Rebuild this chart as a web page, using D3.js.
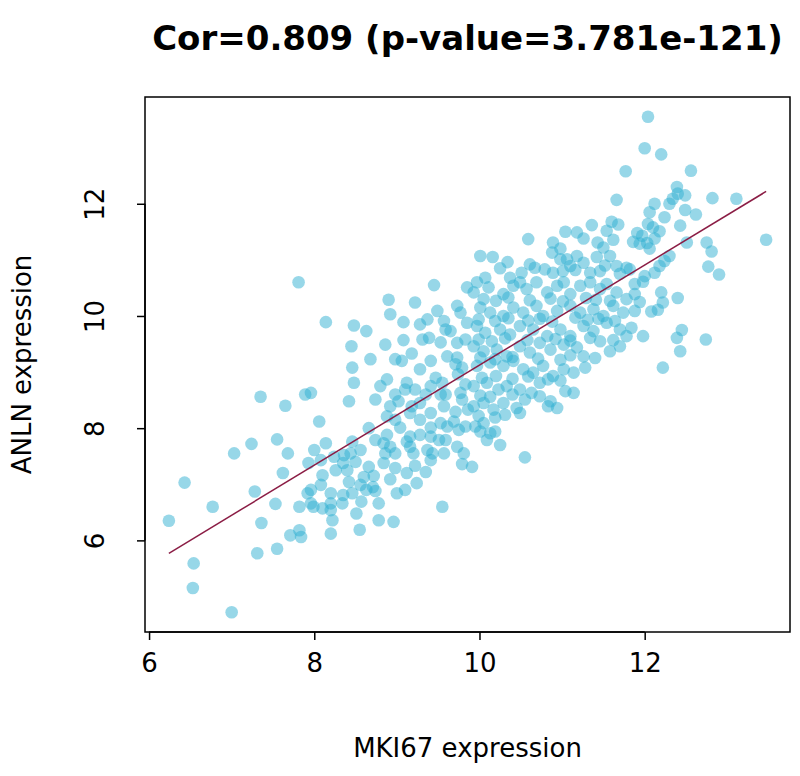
<!DOCTYPE html>
<html>
<head>
<meta charset="utf-8">
<script src="https://cdn.jsdelivr.net/npm/d3@7"></script>
<style>
body { margin: 0; background: #fff; }
svg text { font-family: "DejaVu Sans", sans-serif; fill: #000; }
</style>
</head>
<body>
<svg id="chart" width="800" height="776"></svg>
<script>
/* expression values per sample (MKI67 on x, ANLN on y) */
var mki67Expr = [
	6.24, 6.43, 6.54, 6.53, 7.00, 6.77, 7.03, 7.24, 7.28, 7.31,
	7.36, 7.53, 7.55, 7.55, 7.62, 7.68, 7.35, 7.65, 7.89, 7.81,
	7.82, 7.92, 7.96, 7.71, 7.82, 7.84, 7.93, 8.08, 8.10, 7.96,
	7.99, 8.10, 8.20, 8.20, 8.20, 8.22, 8.20, 8.35, 8.40, 8.42,
	8.46, 8.35, 8.34, 8.51, 8.57, 8.55, 8.66, 8.72, 8.71, 8.63,
	8.60, 8.74, 8.78, 8.78, 8.96, 8.84, 8.92, 9.00, 9.10, 9.12,
	9.24, 9.35, 9.41, 9.55, 9.79, 9.91, 10.55, 9.45, 9.85, 8.90,
	9.22, 8.92, 9.08, 8.14, 8.48, 8.63, 9.37, 9.49, 9.57, 9.73,
	9.77, 9.65, 9.08, 9.31, 9.39, 9.53, 9.73, 9.83, 8.45, 9.18,
	9.06, 8.68, 9.41, 9.61, 9.73, 8.46, 8.48, 8.88, 8.80, 9.12,
	9.10, 9.47, 9.41, 9.55, 9.74, 9.83, 9.77, 8.42, 7.96, 8.92,
	9.02, 8.88, 9.18, 9.16, 9.28, 9.41, 9.57, 9.53, 9.61, 9.69,
	9.75, 9.83, 8.06, 8.66, 8.88, 9.16, 9.12, 9.28, 9.41, 9.51,
	8.14, 8.46, 8.56, 8.84, 8.92, 8.86, 8.98, 9.16, 9.20, 9.37,
	9.43, 9.57, 9.73, 9.81, 8.36, 8.44, 8.24, 8.00, 9.85, 9.79,
	9.59, 9.86, 11.77, 11.66, 11.36, 11.60, 11.68, 11.04, 11.18, 11.26,
	10.59, 11.54, 10.89, 11.43, 11.50, 11.62, 10.01, 10.16, 10.34, 10.88,
	10.98, 11.06, 11.18, 11.26, 11.42, 11.66, 11.78, 10.51, 10.67, 10.79,
	10.07, 10.37, 10.89, 11.01, 11.10, 11.34, 11.46, 10.98, 11.58, 12.04,
	12.00, 12.20, 12.56, 12.39, 12.49, 12.40, 12.82, 13.11, 12.12, 12.30,
	12.34, 12.49, 12.62, 12.06, 12.24, 12.04, 12.10, 12.43, 12.18, 11.91,
	11.97, 11.86, 11.94, 12.03, 12.06, 12.12, 12.51, 12.75, 12.81, 13.47,
	12.30, 12.24, 12.18, 12.77, 12.90, 11.82, 12.00, 12.12, 11.88, 11.98,
	11.88, 11.94, 11.88, 12.20, 12.40, 12.22, 12.16, 12.08, 11.84, 11.98,
	12.45, 12.39, 12.74, 12.43, 12.22, 9.97, 10.11, 9.93, 10.29, 10.41,
	10.49, 10.57, 10.69, 10.82, 10.94, 11.02, 11.10, 11.22, 11.34, 11.46,
	11.54, 11.66, 11.78, 10.01, 10.13, 10.29, 10.41, 10.53, 10.69, 10.77,
	10.94, 11.10, 11.22, 11.38, 11.50, 11.62, 11.74, 9.97, 10.07, 10.25,
	10.37, 10.49, 10.65, 10.82, 10.98, 11.10, 11.26, 11.38, 11.54, 11.70,
	11.78, 9.93, 10.05, 10.21, 10.33, 10.49, 10.61, 10.73, 10.86, 11.02,
	11.18, 11.26, 11.46, 11.58, 11.70, 9.97, 10.13, 10.29, 10.41, 10.53,
	10.65, 10.77, 10.89, 11.02, 11.14, 11.28, 9.93, 10.09, 10.23, 10.33,
	10.49, 10.55, 10.63, 10.73, 11.04, 11.14, 9.93, 10.05, 10.17, 10.29,
	10.45, 10.49, 10.86, 10.83, 10.94, 9.95, 10.05, 10.13, 10.19, 10.09,
	10.01, 10.25,
	10.05, 10.20, 10.35, 10.61, 10.86, 11.01, 11.29, 11.41, 11.58,
	9.99, 10.19, 10.35, 10.59, 10.73, 10.88, 11.16, 11.31, 11.44, 11.64,
	9.99, 10.15, 10.31, 10.58, 10.92, 11.10, 11.34, 11.62,
	10.01, 10.19, 10.40, 10.71, 10.98, 11.10, 11.40,
	10.03, 10.20, 10.40, 10.59, 10.83, 10.98,
	10.01, 10.13, 10.40, 10.73,
	9.99, 10.19, 10.31,
	10.25, 10.61, 11.16, 11.52, 11.70,
	9.71, 9.28, 9.22, 9.35, 9.53, 8.98, 8.74, 8.98, 9.28, 9.41,
	9.04, 8.74, 9.59, 9.71, 9.79, 9.59, 9.28, 8.86, 8.98,
	8.26, 8.50, 8.98, 9.22, 8.56, 8.08
];
var anlnExpr = [
	6.35, 7.03, 5.59, 5.15, 4.72, 6.60, 7.55, 7.72, 6.87, 5.77,
	6.31, 6.65, 5.85, 7.80, 7.20, 7.55, 8.56, 8.40, 8.60, 10.60,
	6.60, 6.84, 6.66, 6.09, 6.18, 6.06, 7.38, 7.43, 7.16, 6.90,
	6.60, 6.57, 6.84, 6.66, 6.54, 6.36, 6.12, 7.38, 7.25, 7.04,
	6.84, 6.81, 6.66, 6.48, 6.69, 6.19, 7.31, 7.15, 6.95, 6.90,
	7.13, 6.88, 6.66, 6.36, 6.33, 7.38, 7.09, 6.84, 6.90, 7.20,
	7.02, 7.22, 7.43, 6.60, 7.36, 7.31, 7.48, 10.55, 10.51, 10.29,
	10.24, 10.03, 9.89, 9.89, 9.83, 9.73, 9.94, 10.09, 9.91, 10.18,
	10.06, 9.73, 9.57, 9.58, 9.61, 9.53, 9.52, 9.58, 9.46, 9.33,
	9.20, 9.23, 9.20, 9.28, 9.26, 9.08, 8.81, 8.87, 8.75, 8.81,
	8.69, 8.90, 8.75, 8.81, 8.96, 8.78, 8.63, 8.48, 8.63, 8.39,
	8.48, 8.21, 8.39, 8.27, 8.45, 8.27, 8.39, 8.09, 8.03, 8.12,
	7.97, 8.03, 8.12, 8.00, 7.88, 7.85, 7.76, 7.88, 7.85, 7.79,
	7.73, 7.76, 7.61, 7.73, 7.67, 7.55, 7.55, 7.67, 7.55, 7.61,
	7.55, 7.55, 7.67, 7.55, 7.52, 7.55, 7.49, 7.61, 9.88, 9.08,
	8.60, 8.33, 12.58, 12.07, 11.62, 11.68, 11.63, 11.50, 11.49, 11.38,
	11.37, 11.52, 11.31, 11.31, 11.22, 11.36, 11.07, 11.05, 10.96, 11.13,
	11.01, 11.01, 11.07, 10.95, 11.05, 10.89, 10.86, 10.77, 10.86, 10.83,
	10.68, 10.68, 10.77, 10.80, 10.89, 10.77, 10.80, 11.20, 11.07, 13.55,
	12.99, 12.88, 12.59, 12.30, 12.15, 12.18, 12.10, 12.09, 12.00, 12.00,
	12.09, 11.89, 11.81, 11.85, 11.76, 11.64, 11.58, 11.61, 11.51, 11.48,
	11.43, 11.32, 11.29, 11.30, 11.20, 11.38, 11.31, 11.31, 11.15, 11.36,
	11.07, 10.98, 10.89, 10.88, 10.74, 10.83, 10.71, 10.77, 10.57, 10.61,
	10.39, 10.25, 10.09, 10.42, 10.32, 10.24, 10.11, 10.08, 9.79, 9.64,
	9.75, 9.61, 9.58, 9.37, 9.08, 10.60, 10.51, 10.42, 10.39, 10.54,
	10.60, 10.48, 10.60, 10.42, 10.54, 10.60, 10.39, 10.54, 10.60, 10.48,
	10.57, 10.42, 10.30, 10.15, 10.06, 10.00, 10.15, 10.06, 10.18, 10.00,
	10.09, 10.18, 10.06, 10.12, 10.00, 10.18, 10.06, 9.82, 9.70, 9.76,
	9.67, 9.82, 9.76, 9.64, 9.76, 9.64, 9.82, 9.73, 9.88, 9.76,
	9.64, 9.46, 9.37, 9.40, 9.28, 9.46, 9.35, 9.52, 9.40, 9.49,
	9.44, 9.28, 9.55, 9.37, 9.46, 9.11, 9.17, 9.11, 9.20, 9.05,
	8.99, 9.11, 8.93, 9.05, 8.99, 9.08, 8.75, 8.81, 8.69, 8.75,
	8.69, 8.51, 8.63, 8.81, 8.66, 8.63, 8.39, 8.45, 8.33, 8.45,
	8.36, 8.27, 8.48, 8.39, 8.36, 8.03, 8.09, 7.91, 7.94, 7.79,
	7.94, 7.70,
	10.30, 10.27, 10.33, 10.28, 10.31, 10.26, 10.32, 10.29, 10.27,
	9.94, 9.91, 9.96, 9.92, 9.95, 9.90, 9.97, 9.93, 9.95, 9.91,
	9.58, 9.55, 9.60, 9.57, 9.59, 9.56, 9.61, 9.57,
	9.26, 9.23, 9.27, 9.24, 9.22, 9.30, 9.25,
	8.90, 8.93, 8.88, 8.92, 8.87, 8.85,
	8.58, 8.56, 8.60, 8.57,
	8.22, 8.19, 8.24,
	10.85, 10.92, 10.82, 10.90, 10.75,
	9.14, 9.05, 8.69, 8.60, 8.60, 8.60, 8.51, 8.15, 8.15, 8.01,
	8.01, 7.79, 7.79, 8.29, 8.51, 9.76, 9.85, 9.49, 9.23,
	7.25, 7.40, 7.29, 7.33, 6.99, 6.99
];
/* fitted regression line, as drawn in the original */
var fitIntercept = 0.204;
var fitSlope = 0.892;

var xTicks = [6, 8, 10, 12];
var yTicks = [6, 8, 10, 12];
var mainTitle = "Cor=0.809 (p-value=3.781e-121)";
var xTitle = "MKI67 expression";
var yTitle = "ANLN expression";

/**
* @func R-style axis range: data extent widened by 4% each side
*/
function padDomain(vals)
{
	var ext = d3.extent(vals);
	var pad = (ext[1] - ext[0]) * 0.04;
	return [ext[0] - pad, ext[1] + pad];
}

var box = { left: 145, right: 790, top: 97, bottom: 632 };
var fontSize = 26;

var svg = d3.select("#chart");

var x = d3.scaleLinear().domain(padDomain(mki67Expr)).range([box.left, box.right]);
var y = d3.scaleLinear().domain(padDomain(anlnExpr)).range([box.bottom, box.top]);

var samples = mki67Expr.map(function(v, i) { return { x: v, y: anlnExpr[i] }; });

/* points */
svg.append("g")
	.selectAll("circle")
	.data(samples)
	.enter().append("circle")
	.attr("cx", function(d) { return x(d.x); })
	.attr("cy", function(d) { return y(d.y); })
	.attr("r", 6.3)
	.attr("fill", "rgb(48,176,210)")
	.attr("fill-opacity", 0.5);

/* regression line over the data range */
var xr = d3.extent(mki67Expr);
svg.append("line")
	.attr("x1", x(xr[0]))
	.attr("y1", y(fitIntercept + fitSlope * xr[0]))
	.attr("x2", x(xr[1]))
	.attr("y2", y(fitIntercept + fitSlope * xr[1]))
	.attr("stroke", "#8b1d45")
	.attr("stroke-width", 1.5);

/* frame */
svg.append("rect")
	.attr("x", box.left)
	.attr("y", box.top)
	.attr("width", box.right - box.left)
	.attr("height", box.bottom - box.top)
	.attr("fill", "none")
	.attr("stroke", "#000")
	.attr("stroke-width", 1.5);

/* x axis */
var gx = svg.append("g")
	.attr("transform", "translate(0," + box.bottom + ")")
	.call(d3.axisBottom(x).tickValues(xTicks).tickSize(8).tickFormat(d3.format("d")));
gx.select(".domain").remove();
gx.append("line")
	.attr("x1", x(xTicks[0])).attr("x2", x(xTicks[xTicks.length - 1]))
	.attr("stroke", "#000").attr("stroke-width", 1.5);
gx.selectAll(".tick line").attr("stroke-width", 1.5);
gx.attr("font-family", null).attr("font-size", null);
gx.selectAll("text")
	.attr("y", 31)
	.attr("dy", "0.36em")
	.style("font-size", fontSize + "px");

/* y axis, labels parallel to the axis */
var gy = svg.append("g")
	.attr("transform", "translate(" + box.left + ",0)")
	.call(d3.axisLeft(y).tickValues(yTicks).tickSize(8).tickFormat(d3.format("d")));
gy.select(".domain").remove();
gy.append("line")
	.attr("y1", y(yTicks[0])).attr("y2", y(yTicks[yTicks.length - 1]))
	.attr("stroke", "#000").attr("stroke-width", 1.5);
gy.selectAll(".tick line").attr("stroke-width", 1.5);
gy.attr("font-family", null).attr("font-size", null);
gy.selectAll("text")
	.attr("transform", "rotate(-90)")
	.attr("x", 0)
	.attr("y", -50)
	.attr("dy", "0.36em")
	.attr("text-anchor", "middle")
	.style("font-size", fontSize + "px");

/* titles */
var midX = (box.left + box.right) / 2;
var midY = (box.top + box.bottom) / 2;

svg.append("text")
	.attr("x", midX)
	.attr("y", 38)
	.attr("dy", "0.36em")
	.attr("text-anchor", "middle")
	.style("font-size", "34px")
	.style("font-weight", "bold")
	.text(mainTitle);

svg.append("text")
	.attr("x", midX)
	.attr("y", 748)
	.attr("dy", "0.36em")
	.attr("text-anchor", "middle")
	.style("font-size", fontSize + "px")
	.text(xTitle);

svg.append("text")
	.attr("transform", "translate(22," + midY + ") rotate(-90)")
	.attr("dy", "0.36em")
	.attr("text-anchor", "middle")
	.style("font-size", fontSize + "px")
	.text(yTitle);
</script>
</body>
</html>
